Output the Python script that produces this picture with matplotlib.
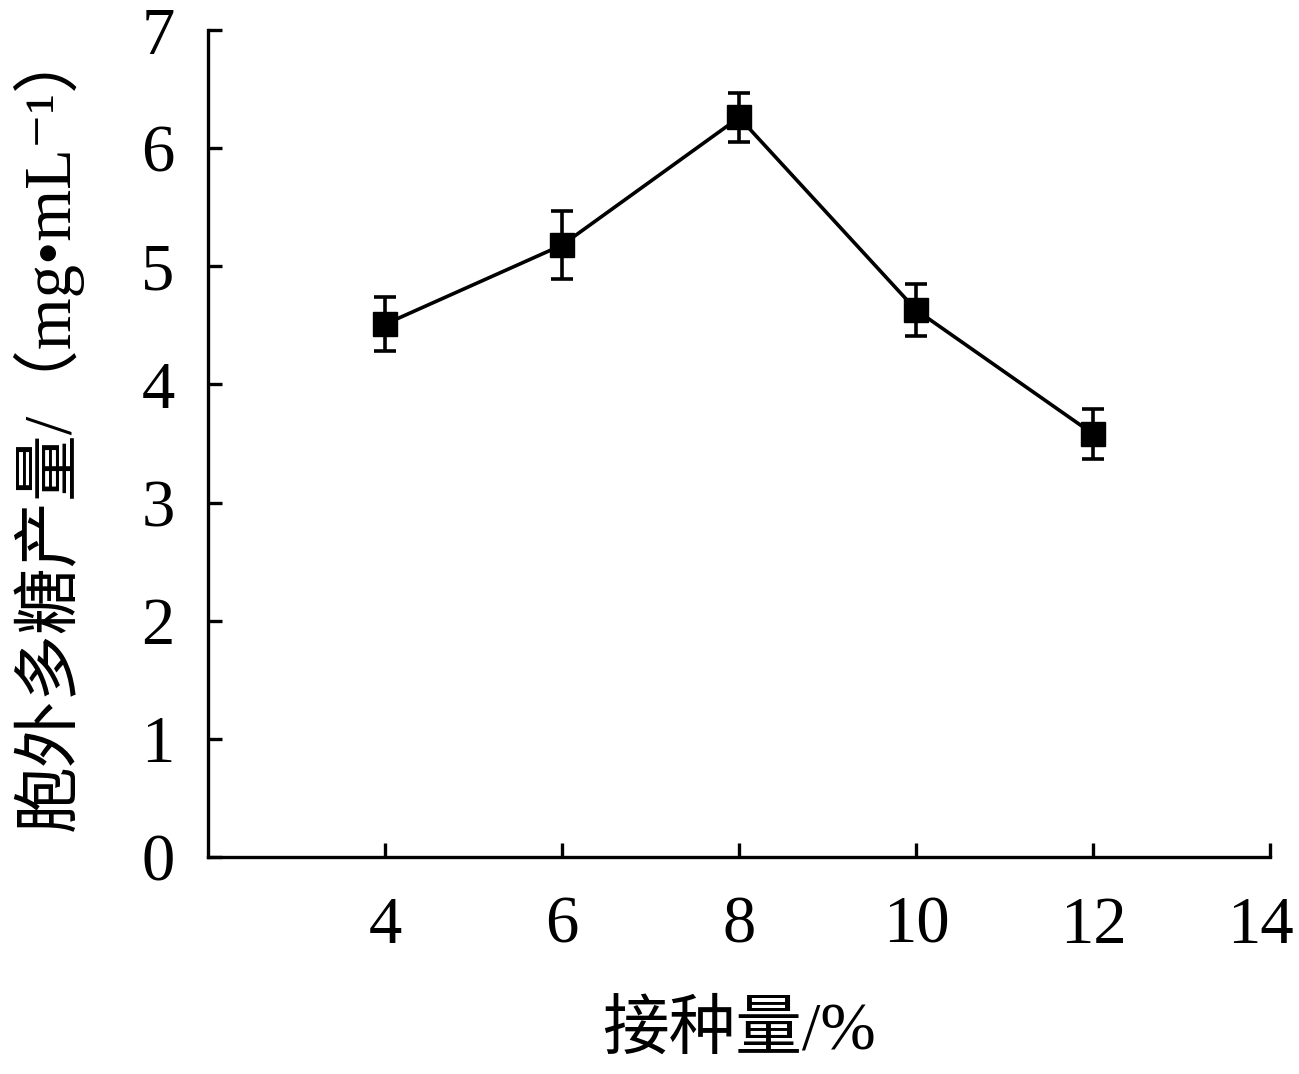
import numpy as np
import matplotlib
matplotlib.use("Agg")
import matplotlib.pyplot as plt
from matplotlib.transforms import ScaledTranslation

# -----------------------------
# Data
# -----------------------------
inoculum = [4, 6, 8, 10, 12]              # 接种量 / %
eps_yield = [4.51, 5.18, 6.26, 4.63, 3.58]  # mg/mL
eps_err = [0.23, 0.29, 0.21, 0.22, 0.21]

x_ticks = [4, 6, 8, 10, 12, 14]
y_ticks = [0, 1, 2, 3, 4, 5, 6, 7]

# -----------------------------
# Fonts
# -----------------------------
plt.rcParams['font.family'] = ['Liberation Serif', 'Noto Sans CJK SC', 'DejaVu Sans']

# -----------------------------
# Figure
# -----------------------------
fig = plt.figure(figsize=(12.99, 10.74), dpi=100)
ax = fig.add_axes([0.160, 0.202, 0.818, 0.770])

ax.errorbar(inoculum, eps_yield, yerr=eps_err, color='black', lw=2.6,
            marker='s', markersize=17, capsize=8, capthick=2.6, elinewidth=2.6)

ax.set_xlim(2, 14)
ax.set_ylim(0, 7)
ax.set_xticks(x_ticks)
ax.set_yticks(y_ticks)

for side in ['top', 'right']:
    ax.spines[side].set_visible(False)
for side in ['left', 'bottom']:
    ax.spines[side].set_linewidth(2.4)

ax.tick_params(axis='both', direction='in', length=10, width=2.4,
               labelsize=48, colors='black')
ax.tick_params(axis='x', pad=28)
ax.tick_params(axis='y', pad=24)

# keep the last x label inside the canvas
last = ax.get_xticklabels()[-1]
last.set_transform(last.get_transform() + ScaledTranslation(-10 / 100, 0, fig.dpi_scale_trans))

ax.set_xlabel('接种量/%', fontsize=48, labelpad=32)
ax.set_ylabel('胞外多糖产量/（mg•mL⁻¹）', fontsize=48)
ax.yaxis.set_label_coords(-0.118, 0.52)

fig.savefig("out.png", dpi=100)
